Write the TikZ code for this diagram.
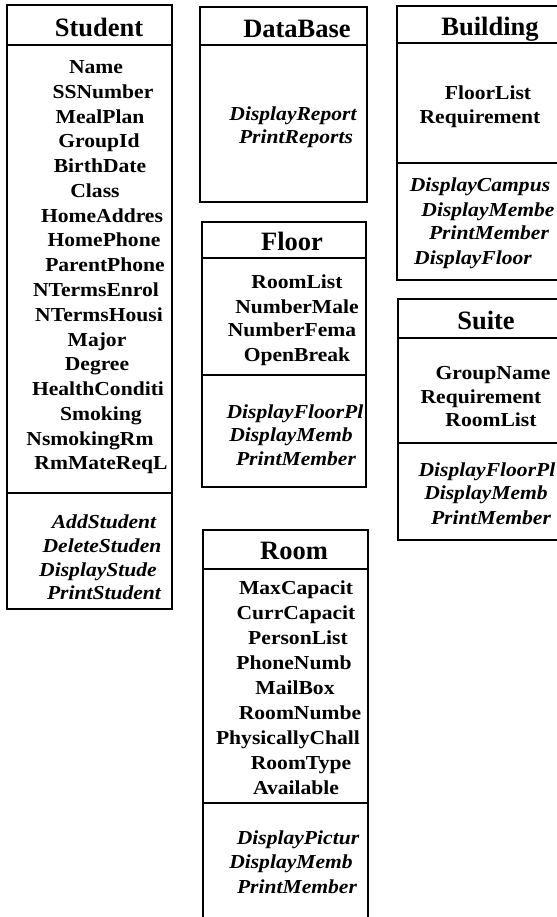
\documentclass[tikz,border=0pt]{standalone}
\usepackage{fontspec}
\setmainfont{Liberation Serif}[FakeStretch=1.09]
\newfontfamily\titlefont{Liberation Serif}
\begin{document}
\begin{tikzpicture}[x=1bp,y=-1bp,
  boxline/.style={line width=2.4bp},
  divline/.style={line width=2bp},
  ttl/.style={font=\titlefont\fontsize{26.5bp}{30bp}\selectfont\bfseries, inner sep=0pt, anchor=base, yshift=-9.5bp},
  attr/.style={font=\fontsize{19.8bp}{24bp}\selectfont\bfseries, inner sep=0pt, anchor=base, yshift=-6.5bp},
  meth/.style={font=\fontsize{19.8bp}{24bp}\selectfont\bfseries\itshape, inner sep=0pt, anchor=base, yshift=-6.5bp}]
\useasboundingbox (0,0) rectangle (557,917);
\clip (0,0) rectangle (557,917);
% ---------- Student ----------
\draw[boxline] (7,5) rectangle (172,609);
\draw[divline] (7,45) -- (172,45);
\draw[divline] (7,493) -- (172,493);
\node[ttl] (st) at (99,27) {Student};
\foreach \t/\x/\y [count=\k] in {Name/96/67, SSNumber/103/92, MealPlan/100/117, GroupId/99/141, BirthDate/100/166, Class/95/191, HomeAddres/102/216, HomePhone/104/240, ParentPhone/105/265, NTermsEnrol/96/290, NTermsHousi/99/315, Major/97/340, Degree/97/364, HealthConditi/98/389, Smoking/101/414, NsmokingRm/90/439, RmMateReqL/101/463}
  \node[attr] (sa\k) at (\x,\y) {\t};
\foreach \t/\x/\y [count=\k] in {AddStudent/104/522, DeleteStuden/102/546, DisplayStude/98/570, PrintStudent/104/593}
  \node[meth] (sm\k) at (\x,\y) {\t};
% ---------- DataBase ----------
\draw[boxline] (200,7) rectangle (367,202);
\draw[divline] (200,45) -- (367,45);
\node[ttl] (db) at (297,28) {DataBase};
\foreach \t/\x/\y [count=\k] in {DisplayReport/293/114, PrintReports/296/137}
  \node[meth] (dm\k) at (\x,\y) {\t};
% ---------- Floor ----------
\draw[boxline] (202,222) rectangle (366,487);
\draw[divline] (202,258) -- (366,258);
\draw[divline] (202,375) -- (366,375);
\node[ttl] (fl) at (292,241) {Floor};
\foreach \t/\x/\y [count=\k] in {RoomList/297/282, NumberMale/297/307, NumberFema/292/330, OpenBreak/297/355}
  \node[attr] (fa\k) at (\x,\y) {\t};
\foreach \t/\x/\y [count=\k] in {DisplayFloorPl/295/412, DisplayMemb/291/435, PrintMember/296/459}
  \node[meth] (fm\k) at (\x,\y) {\t};
% ---------- Room ----------
\draw[boxline] (203,530) rectangle (368,940);
\draw[divline] (203,569) -- (368,569);
\draw[divline] (203,803) -- (368,803);
\node[ttl] (rm) at (294,550) {Room};
\foreach \t/\x/\y [count=\k] in {MaxCapacit/296/588, CurrCapacit/296/613, PersonList/298/638, PhoneNumb/294/663, MailBox/295/688, RoomNumbe/300/713, PhysicallyChall/288/738, RoomType/301/763, Available/296/788}
  \node[attr] (ra\k) at (\x,\y) {\t};
\foreach \t/\x/\y [count=\k] in {DisplayPictur/298/838, DisplayMemb/291/862, PrintMember/297/887}
  \node[meth] (rmm\k) at (\x,\y) {\t};
% ---------- Building ----------
\draw[boxline] (397,6) rectangle (575,280);
\draw[divline] (397,43) -- (575,43);
\draw[divline] (397,163) -- (575,163);
\node[ttl] (bd) at (490,26) {Building};
\foreach \t/\x/\y [count=\k] in {FloorList/488/93, Requirement/480/117}
  \node[attr] (ba\k) at (\x,\y) {\t};
\foreach \t/\x/\y [count=\k] in {DisplayCampus/480/185, DisplayMembe/488/210, PrintMember/489/233, DisplayFloor/473/258}
  \node[meth] (bm\k) at (\x,\y) {\t};
% ---------- Suite ----------
\draw[boxline] (398,299) rectangle (575,540);
\draw[divline] (398,338) -- (575,338);
\draw[divline] (398,443) -- (575,443);
\node[ttl] (su) at (486,320) {Suite};
\foreach \t/\x/\y [count=\k] in {GroupName/493/373, Requirement/481/397, RoomList/491/420}
  \node[attr] (ua\k) at (\x,\y) {\t};
\foreach \t/\x/\y [count=\k] in {DisplayFloorPl/487/470, DisplayMemb/486/493, PrintMember/491/518}
  \node[meth] (um\k) at (\x,\y) {\t};
\end{tikzpicture}
\end{document}
